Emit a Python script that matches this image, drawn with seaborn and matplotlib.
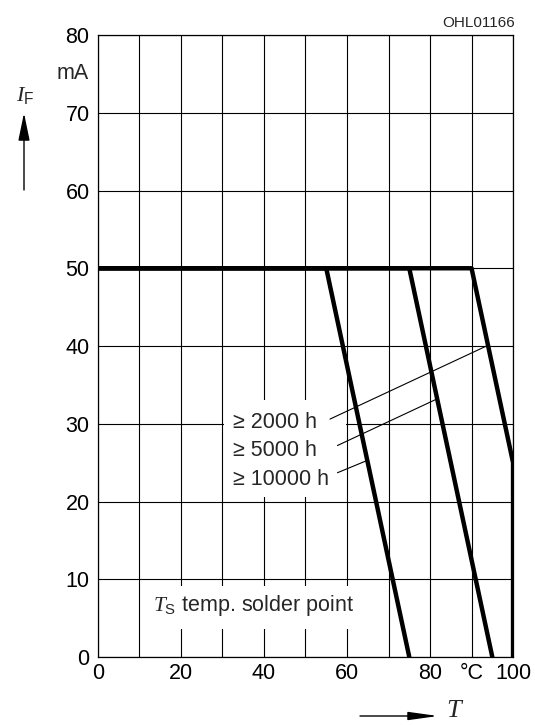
import numpy as np
import pandas as pd
import seaborn as sns
import matplotlib.pyplot as plt
from matplotlib.patches import Rectangle

# permissible forward current vs. solder point temperature
temp_2000 = [0, 90, 100, 100]
if_2000 = [50, 50, 25, 0]
temp_5000 = [0, 75, 95]
if_5000 = [50, 50, 0]
temp_10000 = [0, 55, 75]
if_10000 = [50, 50, 0]

lifetimes = ['≥ 2000 h', '≥ 5000 h', '≥ 10000 h']

x_ticks = [0, 20, 40, 60, 80, 90, 100]
x_ticklabels = ['0', '20', '40', '60', '80', '°C', '100']
y_ticks = [0, 10, 20, 30, 40, 50, 60, 70, 80]

df = pd.concat([
    pd.DataFrame({'T': temp_2000, 'IF': if_2000, 'life': lifetimes[0]}),
    pd.DataFrame({'T': temp_5000, 'IF': if_5000, 'life': lifetimes[1]}),
    pd.DataFrame({'T': temp_10000, 'IF': if_10000, 'life': lifetimes[2]}),
], ignore_index=True)

sns.set_style('white')
plt.rcParams['font.family'] = ['Liberation Sans', 'DejaVu Sans']
plt.rcParams['mathtext.fontset'] = 'custom'
plt.rcParams['mathtext.it'] = 'Liberation Serif:italic'
plt.rcParams['mathtext.rm'] = 'Liberation Sans'

fig = plt.figure(figsize=(5.35, 7.25), dpi=100)
ax = fig.add_axes([0.183, 0.0938, 0.776, 0.8579])

sns.lineplot(data=df, x='T', y='IF', units='life', estimator=None, sort=False,
             color='black', lw=3.2, ax=ax, zorder=3)

ax.set_xlim(0, 100)
ax.set_ylim(0, 80)
ax.set_xticks(x_ticks)
ax.set_xticklabels(x_ticklabels)
ax.set_xticks([10, 30, 50, 70], minor=True)
ax.set_yticks(y_ticks)
ax.tick_params(which='both', length=0, labelsize=15.5, colors='black')
ax.tick_params(axis='x', pad=4)
ax.tick_params(axis='y', pad=6)
ax.grid(True, which='both', color='black', lw=0.8)
ax.set_axisbelow(True)
for sp in ax.spines.values():
    sp.set_color('black')
    sp.set_linewidth(0.9)
ax.set_xlabel('')
ax.set_ylabel('')

ax.text(-0.022, 75, 'mA', transform=ax.get_yaxis_transform(), ha='right',
        va='center', fontsize=15.5)

# white boxes behind the annotations
ax.add_patch(Rectangle((30.4, 20.6), 29.3, 12.5, fc='white', ec='none', zorder=1))
ax.add_patch(Rectangle((10.4, 3.6), 59.2, 5.5, fc='white', ec='none', zorder=1))

label_y = [30.2, 26.5, 22.8]
leader_start = [(55.9, 30.6), (57.7, 27.2), (57.7, 23.7)]
leader_end = [(93.6, 40.0), (81.3, 33.1), (64.5, 25.2)]
for lab, ly, s, e in zip(lifetimes, label_y, leader_start, leader_end):
    ax.text(32.6, ly, lab, ha='left', va='center', fontsize=15.5, zorder=4)
    ax.plot([s[0], e[0]], [s[1], e[1]], color='black', lw=0.8, zorder=4)

ax.text(13.3, 6.6, r'$T_\mathrm{S}$ temp. solder point', ha='left', va='center',
        fontsize=15.5, zorder=4)

# axis captions with arrows
fig.text(25 / 535, 1 - 95 / 725, r'$I_\mathrm{F}$', ha='center', va='center', fontsize=16)
ax.annotate('', xy=(24 / 535, 1 - 113 / 725), xytext=(24 / 535, 1 - 190 / 725),
            xycoords='figure fraction', textcoords='figure fraction',
            arrowprops=dict(arrowstyle='-|>,head_length=1.7,head_width=0.35',
                            lw=1, color='black', shrinkA=0, shrinkB=0,
                            mutation_scale=10))
ax.annotate('', xy=(438 / 535, 1 - 716 / 725), xytext=(360 / 535, 1 - 716 / 725),
            xycoords='figure fraction', textcoords='figure fraction',
            arrowprops=dict(arrowstyle='-|>,head_length=1.8,head_width=0.25',
                            lw=1, color='black', shrinkA=0, shrinkB=0,
                            mutation_scale=10))
fig.text(455 / 535, 1 - 722 / 725, r'$T$', ha='center', va='bottom', fontsize=19)

fig.text(515 / 535, 1 - 23 / 725, 'OHL01166', ha='right', va='center', fontsize=11)

fig.savefig('out.png', dpi=100)
